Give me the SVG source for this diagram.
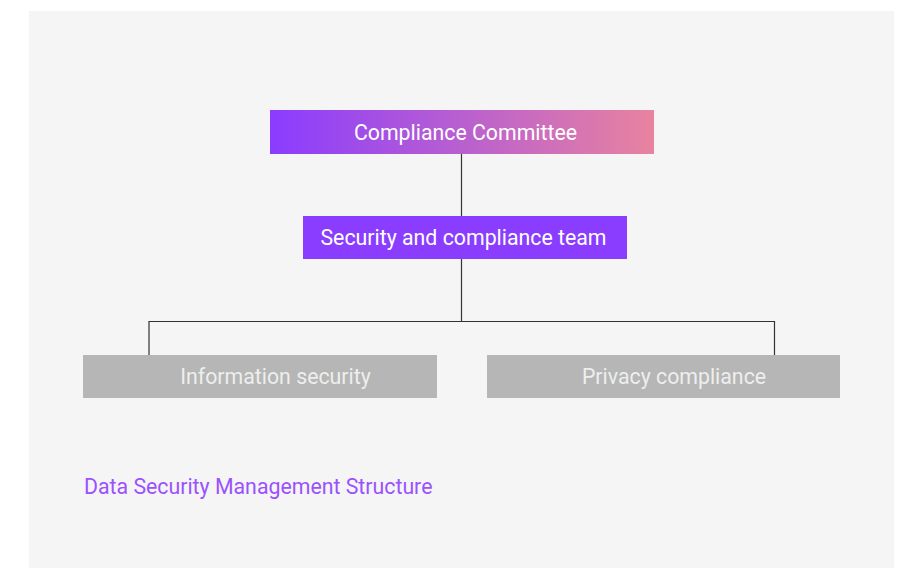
<svg xmlns="http://www.w3.org/2000/svg" width="913" height="568" viewBox="0 0 913 568">
<defs>
<linearGradient id="g1" x1="0" y1="0" x2="1" y2="0">
<stop offset="0" stop-color="#8a3cff"/>
<stop offset="1" stop-color="#e8839f"/>
</linearGradient>
<style>
.t{font-family:Roboto,"Liberation Sans",sans-serif;font-size:21.3px;text-anchor:middle}
.w{fill:#ffffff}
.g{fill:#eeeeee}
.ln{fill:none;stroke:#333333;stroke-width:1.2}
</style>
</defs>
<rect x="0" y="0" width="913" height="568" fill="#ffffff"/>
<rect x="29" y="11" width="865" height="557" fill="#f5f5f5"/>
<g id="connectors">
<path class="ln" d="M461.5 154 V216 M461.5 259 V321.5 M149 355 V321.5 H774.5 V355"/>
</g>
<g id="compliance-committee">
<rect x="270" y="110" width="384" height="44" fill="url(#g1)"/>
<text class="t w" x="465.5" y="139.5">Compliance Committee</text>
</g>
<g id="security-team">
<rect x="303" y="216" width="324" height="43" fill="#8b3dff"/>
<text class="t w" x="463.5" y="244.5">Security and compliance team</text>
</g>
<g id="information-security">
<rect x="83" y="355" width="354" height="43" fill="#b5b6b5"/>
<text class="t g" x="275.5" y="383.5">Information security</text>
</g>
<g id="privacy-compliance">
<rect x="487" y="355" width="353" height="43" fill="#b5b6b5"/>
<text class="t g" x="674" y="383.5">Privacy compliance</text>
</g>
<text x="84" y="493.5" font-family="Roboto,'Liberation Sans',sans-serif" font-size="21.3" fill="#9b51ff">Data Security Management Structure</text>
</svg>
